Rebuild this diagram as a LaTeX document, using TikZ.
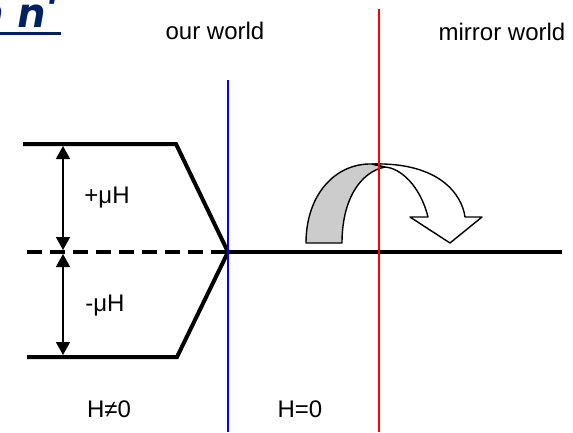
\documentclass[tikz,border=0pt]{standalone}
\usepackage{fontspec}
\setmainfont{Liberation Sans}
\newfontfamily\titlefont{Poppins}
\usetikzlibrary{arrows.meta}
\definecolor{navy}{RGB}{0,32,96}
\definecolor{mblue}{RGB}{0,0,255}
\definecolor{mred}{RGB}{255,0,0}
\definecolor{bandgray}{RGB}{204,204,204}
\begin{document}
\begin{tikzpicture}[x=1pt,y=-1pt,
  lbl/.style={font=\fontsize{24}{28}\selectfont, inner sep=0pt, anchor=base},
  level/.style={line width=4pt},
  gap/.style={line width=1.5pt, {Triangle[width=14pt,length=13pt]}-{Triangle[width=14pt,length=13pt]}},
  band/.style={draw=black, line width=1.4pt, line join=round}]
\useasboundingbox (0,0) rectangle (573,432);
\clip (0,0) rectangle (573,432);

% partial title
\node[anchor=base west, inner sep=0pt, text=navy,
      font=\titlefont\bfseries\itshape\fontsize{40}{40}\selectfont] (title) at (-24,27) {n\hspace{15pt}n'};
\coordinate (ul0) at (0,33.5);
\coordinate (ul1) at (61,33.5);
\draw[navy, line width=3pt] (ul0) -- (ul1);

% headings
\node[lbl] (our) at (215,39) {our world};
\node[lbl] (mirror) at (502,40) {mirror world};

% energy levels
\coordinate (u0) at (23,144);
\coordinate (u1) at (176,144);
\coordinate (x) at (228,252);
\coordinate (l1) at (177,357);
\coordinate (l0) at (27,357);
\coordinate (d0) at (27,252);
\coordinate (e) at (562,252);
\draw[level, line join=miter] (u0) -- (u1) -- (x) -- (l1) -- (l0);
\draw[level, dash pattern=on 15pt off 8pt] (d0) -- (x);
\draw[level] (x) -- (e);

% gap arrows
\coordinate (a0) at (63,146);
\coordinate (a1) at (63,250);
\coordinate (a2) at (63,254);
\coordinate (a3) at (63,355);
\draw[gap] (a0) -- (a1);
\draw[gap] (a2) -- (a3);

\node[lbl] (plus) at (107,203) {+μH};
\node[lbl] (minus) at (105,311) {-μH};

% curved arrow
\draw[band, fill=bandgray] (306,243) .. controls (306,195) and (335,163) .. (372,164)
  -- (385,167) .. controls (360,172) and (342,200) .. (342,243) -- cycle;
\draw[band, fill=white] (372,164) .. controls (440,162) and (462,195) .. (465,217)
  -- (482,217) -- (450,243) -- (410,217) -- (428,217)
  .. controls (420,185) and (400,168) .. (385,167) -- cycle;

% boundaries
\coordinate (b0) at (228,80);
\coordinate (b1) at (228,432);
\coordinate (r0) at (379,9);
\coordinate (r1) at (379,432);
\draw[mblue, line width=2pt] (b0) -- (b1);
\draw[mred, line width=2pt] (r0) -- (r1);

\node[lbl] (hne) at (109,417) {H≠0};
\node[lbl] (heq) at (300,417) {H=0};
\end{tikzpicture}
\end{document}
